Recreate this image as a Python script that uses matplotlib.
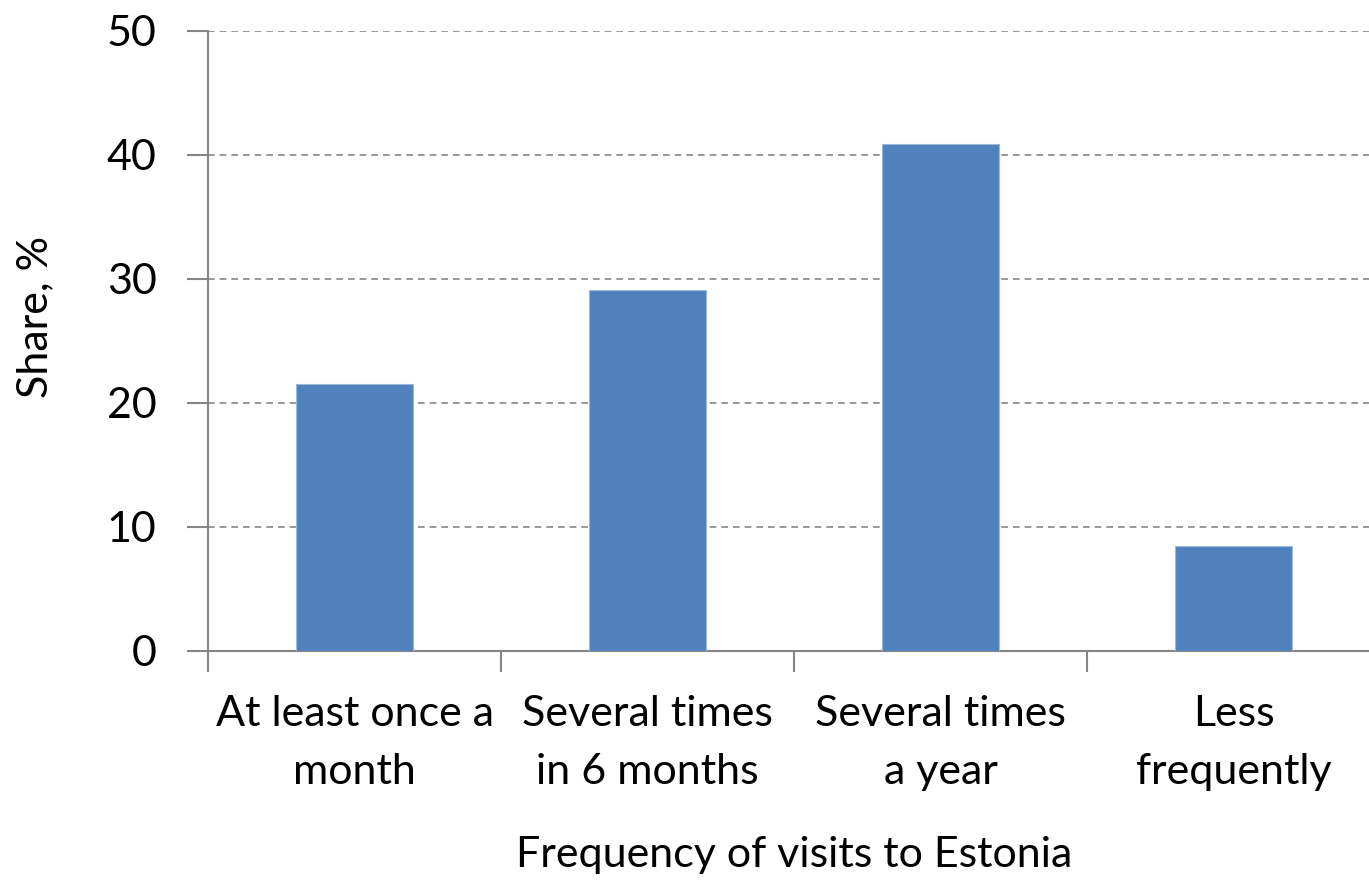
import matplotlib
matplotlib.use("Agg")
import matplotlib.pyplot as plt

categories = ["At least once a\nmonth", "Several times\nin 6 months",
              "Several times\na year", "Less\nfrequently"]
shares = [21.5, 29.1, 40.9, 8.5]
yticks = [0, 10, 20, 30, 40, 50]

plt.rcParams["font.family"] = ["Lato", "DejaVu Sans"]
axis_grey = "#868686"
fs = 31

fig = plt.figure(figsize=(13.69, 8.86), dpi=100)
ax = fig.add_axes([208 / 1369, 1 - 651 / 886, 1172 / 1369, 620 / 886])

x = list(range(len(categories)))
ax.bar(x, shares, width=0.4, color="#4F81BD", edgecolor="#9DB8DB", linewidth=0.8, zorder=3)

ax.set_xlim(-0.5, len(categories) - 0.5)
ax.set_ylim(0, 50)
ax.set_yticks(yticks)
ax.set_yticklabels([str(v) for v in yticks], fontsize=fs)
ax.set_xticks([i - 0.5 for i in range(len(categories) + 1)])
ax.set_xticklabels([])
ax.set_xticks(x, minor=True)
ax.set_xticklabels(categories, minor=True, fontsize=fs, linespacing=1.62)
ax.tick_params(axis="x", which="minor", length=0, pad=32)
ax.tick_params(axis="x", which="major", length=15, width=1.5, color=axis_grey, direction="out")
ax.tick_params(axis="y", length=15, width=1.5, color=axis_grey, direction="out", pad=22)

ax.yaxis.grid(True, linestyle=(0, (4, 3)), color=axis_grey, linewidth=1.2, zorder=0)
for s in ["top", "right"]:
    ax.spines[s].set_visible(False)
for s in ["left", "bottom"]:
    ax.spines[s].set_color(axis_grey)
    ax.spines[s].set_linewidth(1.5)

fig.text(35 / 1369, 1 - 317 / 886, "Share, %", rotation=90, fontsize=fs,
         ha="center", va="center")
fig.text(794 / 1369, 1 - 855 / 886, "Frequency of visits to Estonia", fontsize=fs,
         ha="center", va="center")

fig.savefig("out.png", dpi=100)
